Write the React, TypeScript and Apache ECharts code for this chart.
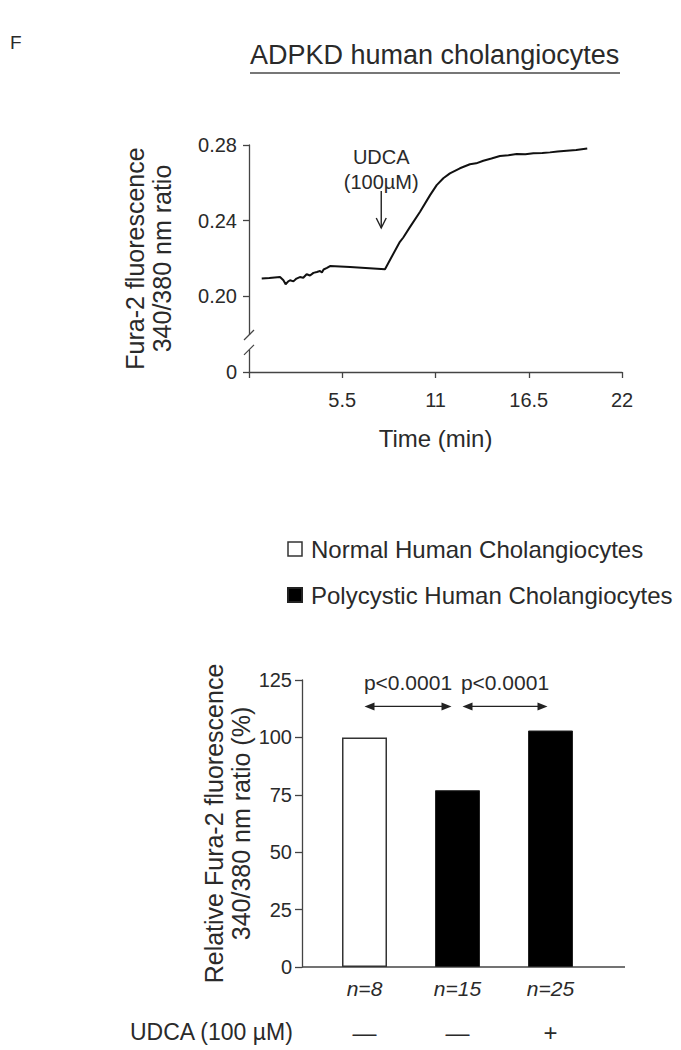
import React, { useEffect, useRef } from 'react';
import * as echarts from 'echarts';

// ---- Trace (top panel) data ----
const traceTime = [0.75, 1.2, 1.83, 2.03, 2.16, 2.3, 2.42, 2.62, 2.8, 3.0, 3.2, 3.4, 3.6, 3.8, 4.0, 4.19, 4.3, 4.4, 4.6, 4.78, 5.96, 8.02, 8.41, 8.9, 9.1, 9.5, 10.09, 10.68, 11.07, 11.46, 11.85, 12.44, 13.03, 13.4, 13.82, 14.3, 14.8, 15.3, 15.79, 16.3, 16.77, 17.3, 17.75, 18.2, 18.74, 19.3, 19.95];
const traceRatio = [0.2094, 0.2097, 0.2102, 0.2085, 0.2064, 0.2078, 0.2085, 0.2079, 0.2094, 0.2102, 0.2098, 0.2117, 0.211, 0.2124, 0.2129, 0.2134, 0.2126, 0.2142, 0.215, 0.216, 0.2155, 0.2143, 0.2208, 0.2288, 0.2311, 0.2367, 0.2447, 0.2535, 0.2588, 0.2624, 0.265, 0.2677, 0.2698, 0.2703, 0.2717, 0.2729, 0.2742, 0.2746, 0.2752, 0.2751, 0.2756, 0.2758, 0.2761, 0.2766, 0.277, 0.2774, 0.2782];
const timeTicks = [0, 5.5, 11, 16.5, 22];
const ratioTicks = [0.16, 0.2, 0.24, 0.28];
const ratioTickLabels = ['0', '0.20', '0.24', '0.28'];
const udcaAddTime = 7.8;
const breakUpper = 0.1796;
const breakLower = 0.1717;

// ---- Bar (bottom panel) data ----
const groups = ['Normal', 'Polycystic', 'Polycystic + UDCA'];
const normalValues: (number | string)[] = [100, '-', '-'];
const polycysticValues: (number | string)[] = ['-', 77, 103];
const nLabels = ['n=8', 'n=15', 'n=25'];
const udcaLabels = ['\u2014', '\u2014', '+'];
const pLabels = ['p<0.0001', 'p<0.0001'];
const pairs = [[0, 1], [1, 2]];
const seriesNames = ['Normal Human Cholangiocytes', 'Polycystic Human Cholangiocytes'];

const FONT = '"Liberation Sans", Arial, Helvetica, sans-serif';
const TXT = '#2a2a2a';
const AX = '#444';

export default function App() {
  const ref = useRef<HTMLDivElement>(null);
  useEffect(() => {
    const chart = echarts.init(ref.current!, null, { renderer: 'svg' });
    const option: any = {
      animation: false,
      backgroundColor: '#fff',
      textStyle: { fontFamily: FONT, color: TXT },
      legend: {
        orient: 'vertical',
        left: 282,
        top: 532,
        itemWidth: 14,
        itemHeight: 14,
        itemGap: 22,
        icon: 'rect',
        textStyle: { fontSize: 24, color: TXT, fontFamily: FONT, padding: [0, 0, 0, 4] },
        data: [
          { name: seriesNames[0], itemStyle: { color: '#fff', borderColor: '#333', borderWidth: 1.5 } },
          { name: seriesNames[1], itemStyle: { color: '#000' } },
        ],
      },
      grid: [
        { left: 249, width: 373, top: 145, height: 227 },
        { left: 318, width: 279, top: 680, height: 287 },
      ],
      xAxis: [
        {
          type: 'value', gridIndex: 0, min: timeTicks[0], max: timeTicks[timeTicks.length - 1], interval: 5.5,
          axisLine: { lineStyle: { color: AX, width: 1.3 } },
          axisTick: { show: true, inside: false, length: 6, lineStyle: { color: AX, width: 1.3 } },
          splitLine: { show: false },
          axisLabel: { fontSize: 20, color: TXT, margin: 18, formatter: (v: number) => (v === 0 ? '' : String(v)) },
          name: 'Time (min)', nameLocation: 'middle', nameGap: 54,
          nameTextStyle: { fontSize: 24, color: TXT },
        },
        {
          type: 'category', gridIndex: 1, data: groups,
          axisLine: { show: false },
          axisTick: { show: false },
          axisLabel: {
            margin: 7,
            formatter: (_v: string, i: number) => `{n|${nLabels[i]}}\n{u|${udcaLabels[i]}}`,
            rich: {
              n: { fontSize: 21, fontStyle: 'italic', color: TXT, lineHeight: 28, fontFamily: FONT },
              u: { fontSize: 24, color: TXT, lineHeight: 60, fontFamily: FONT },
            },
          },
        },
      ],
      yAxis: [
        {
          type: 'value', gridIndex: 0, min: 0.16, max: 0.28, interval: 0.04,
          axisLine: { show: true, lineStyle: { color: AX, width: 1.3 } },
          axisTick: { show: true, inside: false, length: 6, lineStyle: { color: AX, width: 1.3 } },
          splitLine: { show: false },
          axisLabel: {
            fontSize: 20, color: TXT, margin: 12,
            formatter: (v: number) => {
              const i = ratioTicks.findIndex((t) => Math.abs(t - v) < 1e-6);
              return i >= 0 ? ratioTickLabels[i] : '';
            },
          },
          name: 'Fura-2 fluorescence\n340/380 nm ratio', nameLocation: 'middle', nameRotate: 90, nameGap: 74,
          nameTextStyle: { fontSize: 25, color: TXT, lineHeight: 27, align: 'center' },
        },
        {
          type: 'value', gridIndex: 1, min: 0, max: 125, interval: 25, offset: 16,
          axisLine: { show: true, lineStyle: { color: AX, width: 1.3 } },
          axisTick: { show: true, inside: false, length: 7, lineStyle: { color: AX, width: 1.3 } },
          splitLine: { show: false },
          axisLabel: { fontSize: 20, color: TXT, margin: 10 },
          name: 'Relative Fura-2 fluorescence\n340/380 nm ratio (%)', nameLocation: 'middle', nameRotate: 90, nameGap: 48,
          nameTextStyle: { fontSize: 25, color: TXT, lineHeight: 27, align: 'center' },
        },
      ],
      series: [
        {
          type: 'line', xAxisIndex: 0, yAxisIndex: 0,
          data: traceTime.map((t, i) => [t, traceRatio[i]]),
          showSymbol: false, symbol: 'none',
          lineStyle: { color: '#111', width: 2 },
        },
        {
          name: seriesNames[0], type: 'bar', xAxisIndex: 1, yAxisIndex: 1,
          data: normalValues, barWidth: 45, barGap: '-100%',
          itemStyle: { color: '#fff', borderColor: '#333', borderWidth: 1.5 },
        },
        {
          name: seriesNames[1], type: 'bar', xAxisIndex: 1, yAxisIndex: 1,
          data: polycysticValues, barWidth: 45, barGap: '-100%',
          itemStyle: { color: '#000', borderColor: '#222', borderWidth: 1 },
        },
      ],
    };
    chart.setOption(option);

    const px0 = (x: number, y: number) => chart.convertToPixel({ gridIndex: 0 }, [x, y]) as number[];
    const px1 = (x: number, y: number) => chart.convertToPixel({ gridIndex: 1 }, [x, y]) as number[];
    const g: any[] = [];

    // panel letter
    g.push({ type: 'text', x: 10, y: 42, style: { text: 'F', fontSize: 19, fill: TXT, fontFamily: FONT, textVerticalAlign: 'middle' } });
    // title + underline
    g.push({ type: 'text', x: 250, y: 55, style: { text: 'ADPKD human cholangiocytes', fontSize: 27, fill: TXT, fontFamily: FONT, textVerticalAlign: 'middle' } });
    g.push({ type: 'line', shape: { x1: 250, y1: 73, x2: 620, y2: 73 }, style: { stroke: '#777', lineWidth: 2 } });

    // axis break marks
    const bu = px0(0, breakUpper);
    const bl = px0(0, breakLower);
    const ax = bu[0];
    g.push({ type: 'rect', z: 100, shape: { x: ax - 4, y: bu[1], width: 8, height: bl[1] - bu[1] }, style: { fill: '#fff' } });
    [bu[1], bl[1]].forEach((yy) => {
      g.push({ type: 'line', z: 101, shape: { x1: ax - 5, y1: yy + 5, x2: ax + 5, y2: yy - 5 }, style: { stroke: AX, lineWidth: 1.3 } });
    });

    // UDCA addition marker
    const ua = px0(udcaAddTime, 0.28);
    g.push({ type: 'text', x: ua[0], y: 157, style: { text: 'UDCA', fontSize: 20, fill: TXT, fontFamily: FONT, textAlign: 'center', textVerticalAlign: 'middle' } });
    g.push({ type: 'text', x: ua[0], y: 182, style: { text: '(100\u00b5M)', fontSize: 20, fill: TXT, fontFamily: FONT, textAlign: 'center', textVerticalAlign: 'middle' } });
    g.push({ type: 'line', shape: { x1: ua[0], y1: 191, x2: ua[0], y2: 228 }, style: { stroke: '#222', lineWidth: 1.4 } });
    g.push({ type: 'polyline', shape: { points: [[ua[0] - 5, 218], [ua[0], 228], [ua[0] + 5, 218]] }, style: { stroke: '#222', lineWidth: 1.4, fill: null } });

    // bar chart x-axis line (extended)
    const z0 = px1(0, 0);
    g.push({ type: 'line', shape: { x1: 302, y1: z0[1], x2: 625, y2: z0[1] }, style: { stroke: AX, lineWidth: 1.3 } });

    // significance arrows
    const insets = [[0, 6], [5, 3]];
    pairs.forEach(([a, b], k) => {
      const pa = px1(a, 113.5);
      const pb = px1(b, 113.5);
      const xa = pa[0] + insets[k][0];
      const xb = pb[0] - insets[k][1];
      const y = pa[1];
      g.push({ type: 'line', shape: { x1: xa + 4, y1: y, x2: xb - 4, y2: y }, style: { stroke: '#222', lineWidth: 1.4 } });
      g.push({ type: 'polygon', shape: { points: [[xa, y], [xa + 10, y - 4], [xa + 10, y + 4]] }, style: { fill: '#222' } });
      g.push({ type: 'polygon', shape: { points: [[xb, y], [xb - 10, y - 4], [xb - 10, y + 4]] }, style: { fill: '#222' } });
      const pt = px1(a, 124);
      g.push({ type: 'text', x: (xa + xb) / 2, y: pt[1], style: { text: pLabels[k], fontSize: 21, fill: TXT, fontFamily: FONT, textAlign: 'center', textVerticalAlign: 'middle' } });
    });

    // UDCA row label
    g.push({ type: 'text', x: 130, y: 1032, style: { text: 'UDCA (100 \u00b5M)', fontSize: 23, fill: TXT, fontFamily: FONT, textVerticalAlign: 'middle' } });

    chart.setOption({ graphic: g });
    return () => chart.dispose();
  }, []);
  return <div ref={ref} style={{ position: 'absolute', left: 0, top: 0, width: 681, height: 1050 }} />;
}
